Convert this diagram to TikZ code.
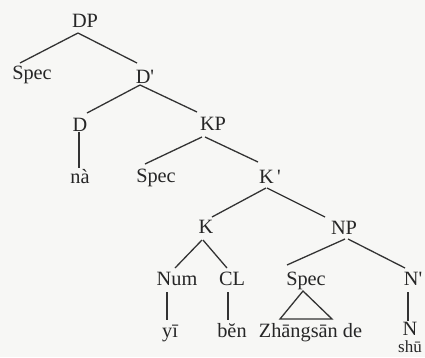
\documentclass[tikz,border=0pt]{standalone}
\usepackage{fontspec}
\newfontfamily\treefont{Liberation Serif}
\begin{document}
\begin{tikzpicture}[x=1pt,y=-1pt,
  lab/.style={anchor=base,inner sep=0pt,text=black!85,font=\treefont\fontsize{20.3}{24}\selectfont},
  edge/.style={draw=black!80,line width=1.3pt}]
\fill[fill={rgb,255:red,247;green,247;blue,245}] (0,0) rectangle (425,357);
\useasboundingbox (0,0) rectangle (425,357);
% nodes
\node[lab] (DP) at (85,27) {DP};
\node[lab] (S1) at (32,79) {Spec};
\node[lab] (Dbar) at (145,83) {D'};
\node[lab] (D) at (80,131) {D};
\node[lab] (KP) at (213,130) {KP};
\node[lab] (na) at (80,183) {nà};
\node[lab] (S2) at (156,182) {Spec};
\node[lab] (Kbar) at (270,183) {K\,'};
\node[lab] (K) at (206,233) {K};
\node[lab] (NP) at (344,234) {NP};
\node[lab] (Num) at (177,285) {Num};
\node[lab] (CL) at (232,285) {CL};
\node[lab] (S3) at (306,285) {Spec};
\node[lab] (Nbar) at (413,285) {N'};
\node[lab] (yi) at (170,337) {yī};
\node[lab] (ben) at (232,337) {bĕn};
\node[lab] (Zh) at (310.5,337) {Zhāngsān de};
\node[lab] (N) at (410,335) {N};
\node[lab,font=\treefont\fontsize{17}{19}\selectfont] (shu) at (410,352.5) {shū};
% edges
\draw[edge] ([shift={(-7,6)}]DP.base) -- ([shift={(-12,-16)}]S1.base);
\draw[edge] ([shift={(-7,6)}]DP.base) -- ([shift={(-8,-20)}]Dbar.base);
\draw[edge] ([shift={(-5,2)}]Dbar.base) -- ([shift={(7,-18)}]D.base);
\draw[edge] ([shift={(-5,2)}]Dbar.base) -- ([shift={(-16,-18)}]KP.base);
\draw[edge] ([shift={(-1,1)}]D.base) -- ([shift={(-1,-15)}]na.base);
\draw[edge] ([shift={(-11,7)}]KP.base) -- ([shift={(-11,-18)}]S2.base);
\draw[edge] ([shift={(-8,7)}]KP.base) -- ([shift={(-12,-21)}]Kbar.base);
\draw[edge] ([shift={(-4,5)}]Kbar.base) -- ([shift={(6,-16)}]K.base);
\draw[edge] ([shift={(-3,5)}]Kbar.base) -- ([shift={(-19,-17)}]NP.base);
\draw[edge] ([shift={(-4,7)}]K.base) -- ([shift={(-2,-17)}]Num.base);
\draw[edge] ([shift={(-3,7)}]K.base) -- ([shift={(-5,-17)}]CL.base);
\draw[edge] ([shift={(1,5)}]NP.base) -- ([shift={(-19,-20)}]S3.base);
\draw[edge] ([shift={(4,5)}]NP.base) -- ([shift={(-8,-17)}]Nbar.base);
\draw[edge] ([shift={(-10,7)}]Num.base) -- ([shift={(-3,-17)}]yi.base);
\draw[edge] ([shift={(-4,7)}]CL.base) -- ([shift={(-4,-17)}]ben.base);
\draw[edge] ([shift={(-5,7)}]Nbar.base) -- ([shift={(-2,-14)}]N.base);
\draw[edge,line join=miter] ([shift={(-3,6)}]S3.base) -- ([shift={(-30.5,-18)}]Zh.base) -- ([shift={(21.5,-18)}]Zh.base) -- cycle;
\end{tikzpicture}
\end{document}
